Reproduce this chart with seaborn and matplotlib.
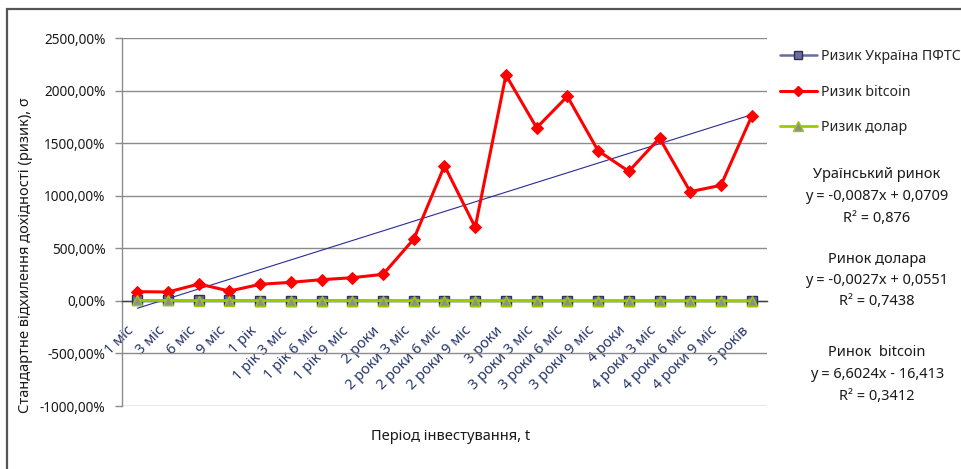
import numpy as np
import pandas as pd
import matplotlib
matplotlib.use("Agg")
import matplotlib.pyplot as plt
from matplotlib.patches import Rectangle
from matplotlib.lines import Line2D
import matplotlib.transforms as mtransforms
import seaborn as sns

# Investment horizons
periods = ["1 міс", "3 міс", "6 міс", "9 міс", "1 рік", "1 рік 3 міс", "1 рік 6 міс",
           "1 рік 9 міс", "2 роки", "2 роки 3 міс", "2 роки 6 міс", "2 роки 9 міс",
           "3 роки", "3 роки 3 міс", "3 роки 6 міс", "3 роки 9 міс", "4 роки",
           "4 роки 3 міс", "4 роки 6 міс", "4 роки 9 міс", "5 років"]

# Standard deviation of returns, %
risk_pfts = [6.4, 5.9, 5.1, 4.8, 4.2, 3.9, 3.6, 3.3, 3.1, 2.9, 2.7, 2.6,
             2.4, 2.3, 2.2, 2.1, 2.0, 1.9, 1.8, 1.8, 1.7]
risk_btc = [89, 86, 162, 95, 159, 178, 203, 222, 254, 590, 1289, 702,
            2152, 1650, 1949, 1431, 1235, 1552, 1041, 1102, 1759]
risk_usd = [5.2, 4.9, 4.4, 4.1, 3.8, 3.6, 3.4, 3.2, 3.0, 2.8, 2.7, 2.6,
            2.5, 2.4, 2.3, 2.2, 2.1, 2.0, 1.9, 1.9, 1.8]

series_names = ["Ризик Україна ПФТС", "Ризик bitcoin", "Ризик долар"]

trend_texts = [
    ("Ураїнський ринок", "y = -0,0087x + 0,0709", "R² = 0,876"),
    ("Ринок долара", "y = -0,0027x + 0,0551", "R² = 0,7438"),
    ("Ринок  bitcoin", "y = 6,6024x - 16,413", "R² = 0,3412"),
]

sns.set_theme(style="white")
plt.rcParams["font.family"] = ["Noto Sans", "DejaVu Sans"]

FS_TICK = 9.8
FS_XTICK = 10.4
FS_LEG = 10.2
FS_TXT = 10.5
W, H = 961, 469
fig = plt.figure(figsize=(W / 100, H / 100), dpi=100)
ax = fig.add_axes([122 / W, 1 - 406 / H, (767 - 122) / W, (406 - 38.5) / H])

pos = np.arange(len(periods))
df = pd.DataFrame({"pos": pos, "pfts": risk_pfts, "btc": risk_btc, "usd": risk_usd})

grid_c = "#8C8C8C"
ax.set_ylim(-1000, 2500)
ax.set_xlim(-0.5, len(periods) - 0.5)
ax.set_yticks(np.arange(-1000, 2501, 500))
ax.yaxis.grid(True, color=grid_c, lw=1.0)
ax.set_axisbelow(True)

pfts_line = "#6B6B9E"
btc_c = "#FF0000"
usd_c = "#99CC00"

sns.lineplot(data=df, x="pos", y="pfts", ax=ax, color=pfts_line, lw=1.8,
             marker="s", markersize=6.5, markerfacecolor="#6E6E96",
             markeredgecolor="#2E2E5A", markeredgewidth=1.0, zorder=3)

# linear trend of bitcoin risk
k, b = np.polyfit(pos, np.array(risk_btc, float), 1)
ax.plot(pos[[0, -1]], k * pos[[0, -1]] + b, color="#2A2A96", lw=0.8, zorder=3.5)

sns.lineplot(data=df, x="pos", y="btc", ax=ax, color=btc_c, lw=2.2,
             marker="D", markersize=6.5, markerfacecolor=btc_c,
             markeredgecolor=btc_c, zorder=4)
sns.lineplot(data=df, x="pos", y="usd", ax=ax, color=usd_c, lw=2.0,
             marker="^", markersize=7, markerfacecolor="#8E8E8E",
             markeredgecolor=usd_c, markeredgewidth=1.0, zorder=5)

# axes styling
for s in ["top", "right"]:
    ax.spines[s].set_visible(False)
ax.spines["left"].set_color(grid_c)
ax.spines["left"].set_linewidth(1.0)
ax.spines["bottom"].set_position(("data", 0))
ax.spines["bottom"].set_color("#404040")
ax.spines["bottom"].set_linewidth(1.0)
ax.spines["bottom"].set_zorder(2.5)

ax.set_yticklabels([f"{v:.2f}%".replace(".", ",") for v in np.arange(-1000, 2501, 500)],
                   fontsize=FS_TICK, color="#1a1a1a")
ax.tick_params(axis="y", length=5, width=1, color=grid_c, pad=7, left=True)
ax.set_xticks(pos)
ax.set_xticklabels(periods, rotation=45, ha="right", rotation_mode="anchor",
                   fontsize=FS_XTICK, color="#27366A")
ax.tick_params(axis="x", length=0, pad=16, bottom=True)
offset = mtransforms.ScaledTranslation(-11 / 100, 0, fig.dpi_scale_trans)
for lbl in ax.get_xticklabels():
    lbl.set_transform(lbl.get_transform() + offset)

ax.set_xlabel("")
ax.set_ylabel("")
fig.text(26 / W, 1 - 255 / H, "Стандартне відхилення дохідності (ризик), σ",
         rotation=90, ha="center", va="center", fontsize=FS_TXT, color="#1a1a1a")
fig.text(451 / W, 1 - 437 / H, "Період інвестування, t",
         ha="center", va="center", fontsize=FS_TXT, color="#1a1a1a")

handles = [
    Line2D([], [], color=pfts_line, lw=1.8, marker="s", markersize=6,
           markerfacecolor="#6E6E96", markeredgecolor="#2E2E5A"),
    Line2D([], [], color=btc_c, lw=2.2, marker="D", markersize=5.5,
           markerfacecolor=btc_c, markeredgecolor=btc_c),
    Line2D([], [], color=usd_c, lw=2.0, marker="^", markersize=7,
           markerfacecolor="#8E8E8E", markeredgecolor=usd_c),
]
fig.legend(handles, series_names, loc="upper left",
           bbox_to_anchor=(780 / W, 1 - 49 / H), frameon=False,
           fontsize=FS_LEG, handlelength=2.6, handletextpad=0.3,
           labelspacing=1.45, borderaxespad=0, borderpad=0)

ys = [(175, 196.5, 218), (259, 280, 301.5), (353, 374.5, 396)]
for (t1, t2, t3), (y1, y2, y3) in zip(trend_texts, ys):
    for t, y in ((t1, y1), (t2, y2), (t3, y3)):
        fig.text(877 / W, 1 - y / H, t, ha="center", va="center",
                 fontsize=FS_TXT, color="#1a1a1a")

# chart area border
fig.patches.append(Rectangle((7 / W, -0.05), 1.2, 1 - 9 / H + 0.05,
                             transform=fig.transFigure, fill=False,
                             edgecolor="#555555", lw=1.6, zorder=0))

fig.savefig("out.png", dpi=100)
